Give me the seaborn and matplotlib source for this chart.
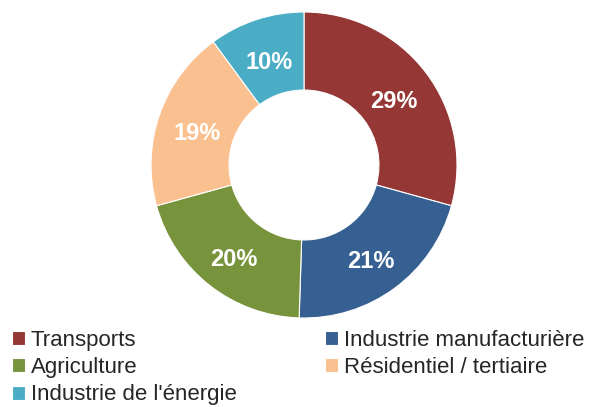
import numpy as np
import matplotlib.pyplot as plt
import seaborn as sns

# --- données ---
categories = ["Transports", "Industrie manufacturière", "Agriculture",
              "Résidentiel / tertiaire", "Industrie de l'énergie"]
parts = [29, 21, 20, 19, 10]
couleurs = ["#953735", "#376092", "#77933C", "#FAC090", "#4BACC6"]

sns.set_theme(style="white")
plt.rcParams["font.family"] = ["Liberation Sans", "DejaVu Sans"]

fig = plt.figure(figsize=(5.96, 4.07), dpi=100)
# centre du donut ~ (304, 165) px, rayon ~153 px
R = 153
ax = fig.add_axes([(304 - R) / 596, 1 - (165 + R) / 407, 2 * R / 596, 2 * R / 407])

wedges, _ = ax.pie(parts, colors=couleurs, startangle=90, counterclock=False,
                   radius=1.0, wedgeprops=dict(width=0.51, edgecolor="white", linewidth=0.8))
ax.set_aspect("equal")
ax.set_xlim(-1, 1)
ax.set_ylim(-1, 1)

# étiquettes en pourcentage au milieu de l'anneau
total = sum(parts)
angle = 90.0
for p in parts:
    mid = np.deg2rad(angle - p / total * 360 / 2)
    r = 0.74
    ax.text(r * np.cos(mid), r * np.sin(mid) - 0.035, f"{p}%", ha="center", va="center",
            color="white", fontsize=17, fontweight="bold")
    angle -= p / total * 360

# légende en deux blocs (lecture par lignes)
style_leg = dict(loc="upper left", frameon=False, fontsize=16, handlelength=0.6,
                 handleheight=0.6, handletextpad=0.25, labelspacing=0.28,
                 borderpad=0, borderaxespad=0)
gauche = [0, 2, 4]
droite = [1, 3]
fig.legend([wedges[i] for i in gauche], [categories[i] for i in gauche],
           bbox_to_anchor=(12 / 596, 1 - 330 / 407), **style_leg)
fig.legend([wedges[i] for i in droite], [categories[i] for i in droite],
           bbox_to_anchor=(325 / 596, 1 - 330 / 407), **style_leg)

fig.savefig("out.png", dpi=100)
